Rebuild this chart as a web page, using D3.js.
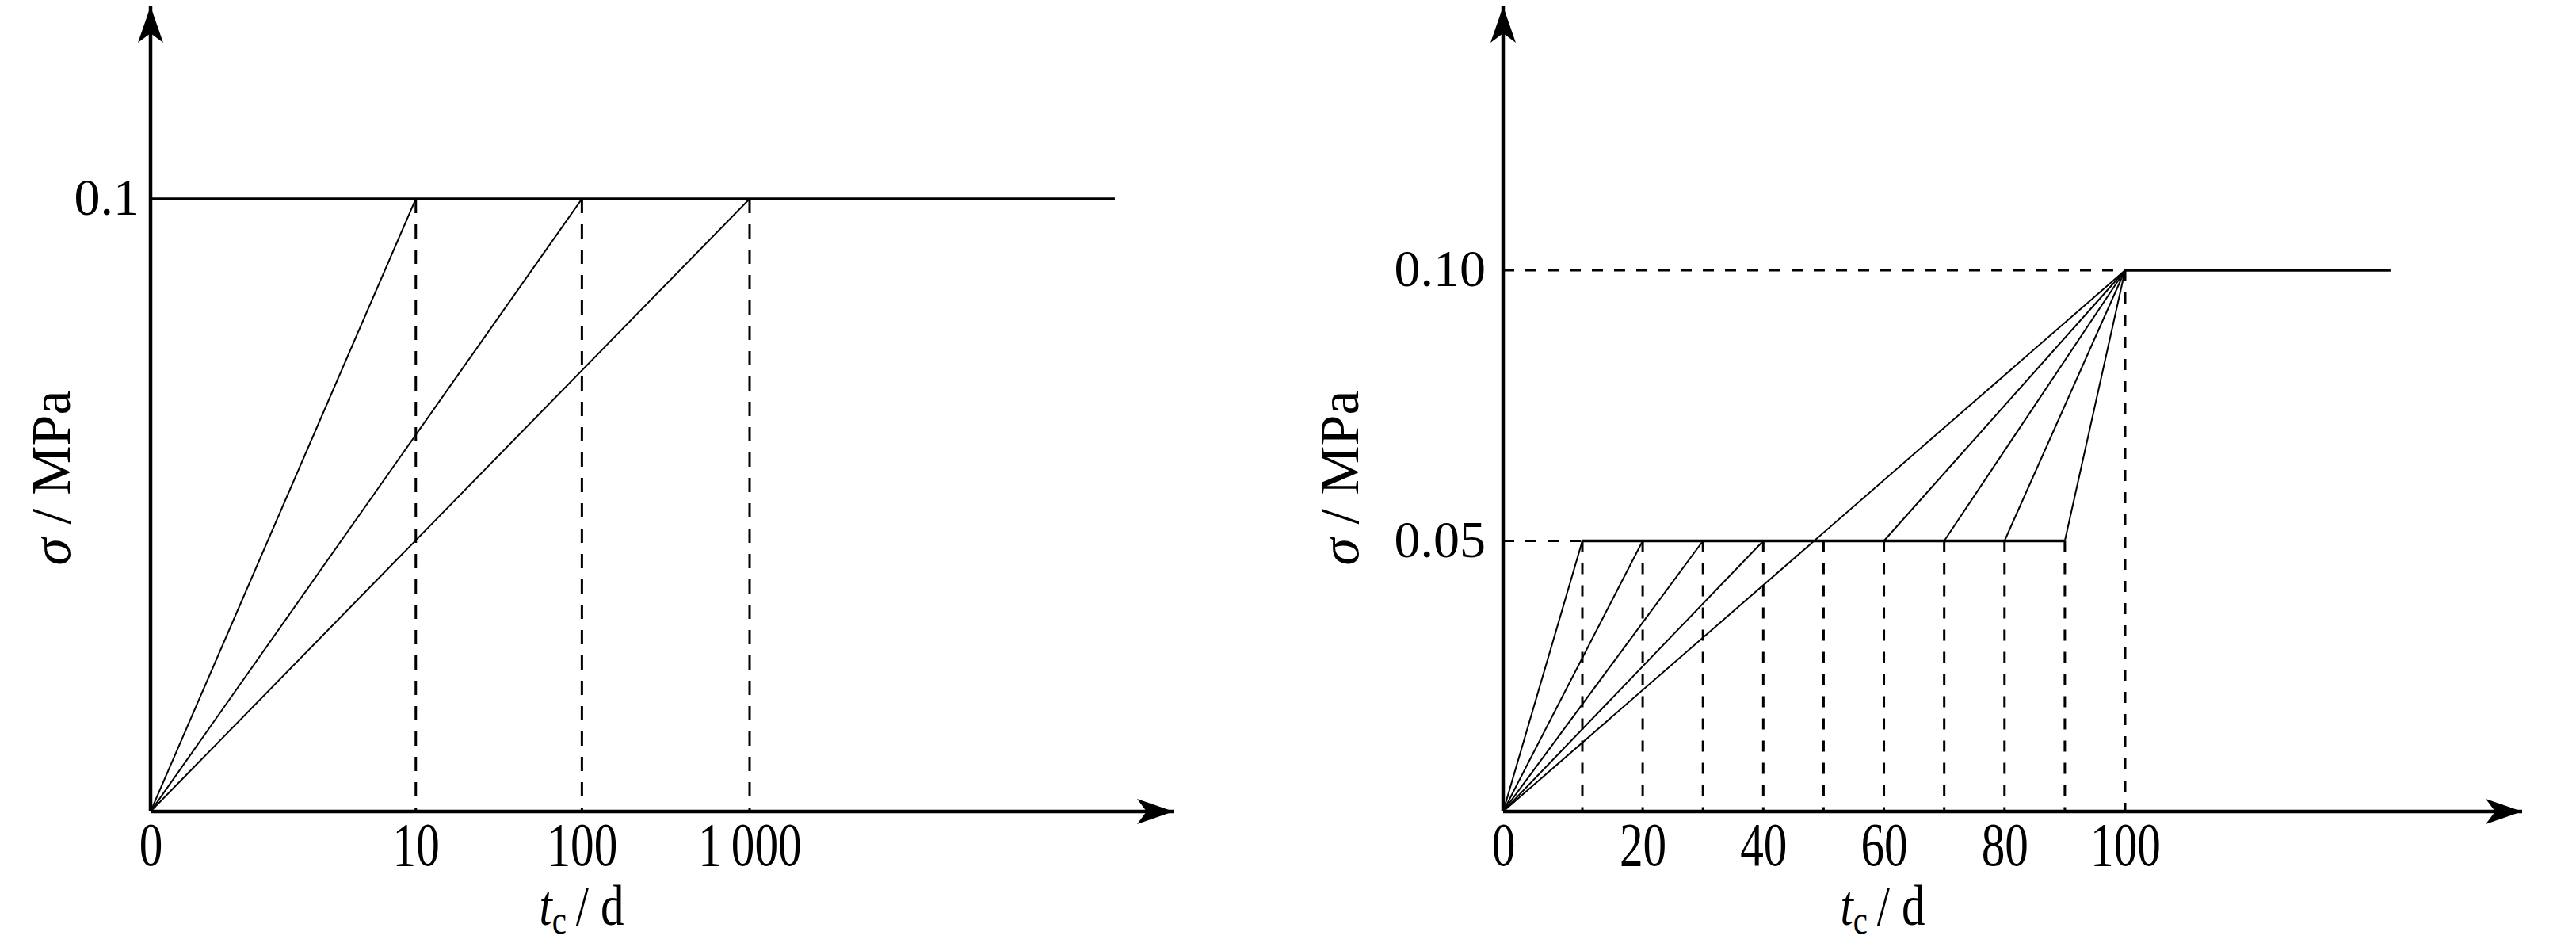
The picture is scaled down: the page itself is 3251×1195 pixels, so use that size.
<!DOCTYPE html>
<html>
<head>
    <meta charset="utf-8">
    <style>
        body { margin: 0; background: #fff; }
        svg { display: block; background: #fff; }
        text { font-family: "Liberation Serif", "Times New Roman", serif; fill: #000; }
        .ramp { fill: none; stroke: #000; stroke-width: 2px; }
        .hold { fill: none; stroke: #000; stroke-width: 3.5px; }
        .guide { fill: none; stroke: #000; stroke-width: 3px; stroke-dasharray: 14 14; }
        .axisline { fill: none; stroke: #000; stroke-width: 4.5px; }
    </style>
</head>
<body>
    <script src="https://cdn.jsdelivr.net/npm/d3@7/dist/d3.min.js"></script>
    <script>
        // ---- left panel data (log-like time axis) ----
        var leftTicks = [0, 10, 100, 1000];
        var leftTickLabels = ["0", "10", "100", "1\u2009000"];
        var leftRampEnds = [10, 100, 1000];      // time when 0.1 MPa is reached
        var leftStress = 0.1;
        var leftPlateauEnd = 150000;
        var leftYTicks = [0.1];
        var leftYLabels = ["0.1"];

        // ---- right panel data (two-step loading) ----
        var rightTicks = [0, 20, 40, 60, 80, 100];
        var rightTickLabels = ["0", "20", "40", "60", "80", "100"];
        var rightHoldTimes = [10, 20, 30, 40, 50, 60, 70, 80, 90];   // reaching 0.05 MPa
        var rightFirstRamp = [10, 20, 30, 40];    // origin -> (t, 0.05)
        var rightSecondRamp = [60, 70, 80, 90];   // (t, 0.05) -> (100, 0.10)
        var rightStep = [0.05, 0.10];
        var rightFinalTime = 100;
        var rightPlateauEnd = 144;
        var rightYTicks = [0.05, 0.10];
        var rightYLabels = ["0.05", "0.10"];

        var W = 3251, H = 1195;

        var svg = d3.select("body").append("svg")
            .attr("width", W)
            .attr("height", H);

        // arrow head
        svg.append("defs").append("marker")
            .attr("id", "arrow")
            .attr("markerUnits", "userSpaceOnUse")
            .attr("viewBox", "-48 -17 50 34")
            .attr("refX", 0).attr("refY", 0)
            .attr("markerWidth", 50).attr("markerHeight", 34)
            .attr("orient", "auto")
            .append("path")
            .attr("d", "M0,0 L-46,-16 L-34,0 L-46,16 Z")
            .attr("fill", "#000");

        var line = d3.line();

        function drawPanel(p) {
            var g = svg.append("g");
            var x = p.x, y = p.y;
            var x0 = x(0), y0 = y(0);

            // axes with arrows
            g.append("path").attr("class", "axisline")
                .attr("d", line([[x0, y0], [x0, p.yTop]]))
                .attr("marker-end", "url(#arrow)");
            g.append("path").attr("class", "axisline")
                .attr("d", line([[x0, y0], [p.xRight, y0]]))
                .attr("marker-end", "url(#arrow)");

            // x tick labels (no tick marks)
            var xa = g.append("g")
                .attr("transform", "translate(0," + y0 + ")")
                .call(d3.axisBottom(x).tickValues(p.xTicks)
                    .tickFormat(function (d, i) { return p.xLabels[i]; })
                    .tickSize(0).tickPadding(68));
            xa.select(".domain").remove();
            xa.selectAll("text")
                .attr("font-size", 78).attr("font-family", null)
                .attr("dy", 0)
                .attr("transform", "scale(0.76,1)");

            // y tick labels
            var ya = g.append("g")
                .attr("transform", "translate(" + x0 + ",0)")
                .call(d3.axisLeft(y).tickValues(p.yTicks)
                    .tickFormat(function (d, i) { return p.yLabels[i]; })
                    .tickSize(0).tickPadding(p.yPad));
            ya.select(".domain").remove();
            ya.selectAll("text").attr("font-size", 66).attr("font-family", null)
                .attr("dy", "0.3em");

            // axis titles
            var xt = g.append("text")
                .attr("text-anchor", "middle")
                .attr("font-size", 72)
                .attr("transform", "translate(" + p.xTitleX + ",1167) scale(0.82,1)");
            xt.append("tspan").attr("font-style", "italic").text("t");
            xt.append("tspan").attr("font-size", 50).attr("dy", 11).text("c");
            xt.append("tspan").attr("dy", -11).text("\u2009/ d");

            var yt = g.append("text")
                .attr("text-anchor", "middle")
                .attr("font-size", 70)
                .attr("transform", "translate(" + p.yTitleX + ",603) rotate(-90)");
            yt.append("tspan").attr("font-style", "italic").text("\u03c3");
            yt.append("tspan").text(" / MPa");

            return g;
        }

        // ---------- left panel ----------
        var xL = d3.scaleSymlog().constant(0.27).domain([0, 1000]).range([190, 946]);
        var yL = d3.scaleLinear().domain([0, 0.1]).range([1024, 251]);

        var gL = drawPanel({
            x: xL, y: yL, yTop: 8, xRight: 1481,
            xTicks: leftTicks, xLabels: leftTickLabels,
            yTicks: leftYTicks, yLabels: leftYLabels, yPad: 14,
            xTitleX: 734, yTitleX: 88
        });

        gL.selectAll(".lguide").data(leftRampEnds).enter().append("path")
            .attr("class", "guide").style("stroke-dasharray", "18 14")
            .attr("d", function (t) { return line([[xL(t), yL(leftStress)], [xL(t), yL(0)]]); });

        gL.selectAll(".lramp").data(leftRampEnds).enter().append("path")
            .attr("class", "ramp")
            .attr("d", function (t) { return line([[xL(0), yL(0)], [xL(t), yL(leftStress)]]); });

        gL.append("path").attr("class", "hold")
            .attr("d", line([[xL(0), yL(leftStress)], [xL(leftPlateauEnd), yL(leftStress)]]));

        // ---------- right panel ----------
        var xR = d3.scaleLinear().domain([0, 10, 100]).range([1897, 1997, 2682]);
        var yR = d3.scaleLinear().domain([0, 0.1]).range([1024, 341]);

        var gR = drawPanel({
            x: xR, y: yR, yTop: 8, xRight: 3183,
            xTicks: rightTicks, xLabels: rightTickLabels,
            yTicks: rightYTicks, yLabels: rightYLabels, yPad: 22,
            xTitleX: 2376, yTitleX: 1714
        });

        var lo = rightStep[0], hi = rightStep[1];

        // dashed guides
        gR.append("path").attr("class", "guide")
            .attr("d", line([[xR(0), yR(lo)], [xR(rightHoldTimes[0]), yR(lo)]]));
        gR.append("path").attr("class", "guide")
            .attr("d", line([[xR(0), yR(hi)], [xR(rightFinalTime), yR(hi)]]));
        gR.selectAll(".rguide").data(rightHoldTimes).enter().append("path")
            .attr("class", "guide")
            .attr("d", function (t) { return line([[xR(t), yR(lo)], [xR(t), yR(0)]]); });
        gR.append("path").attr("class", "guide")
            .attr("d", line([[xR(rightFinalTime), yR(hi)], [xR(rightFinalTime), yR(0)]]));

        // ramps
        gR.selectAll(".r1").data(rightFirstRamp).enter().append("path")
            .attr("class", "ramp")
            .attr("d", function (t) { return line([[xR(0), yR(0)], [xR(t), yR(lo)]]); });
        gR.selectAll(".r2").data(rightSecondRamp).enter().append("path")
            .attr("class", "ramp")
            .attr("d", function (t) { return line([[xR(t), yR(lo)], [xR(rightFinalTime), yR(hi)]]); });
        gR.append("path").attr("class", "ramp")
            .attr("d", line([[xR(0), yR(0)], [xR(rightFinalTime), yR(hi)]]));

        // holds
        gR.append("path").attr("class", "hold")
            .attr("d", line([[xR(d3.min(rightHoldTimes)), yR(lo)], [xR(d3.max(rightHoldTimes)), yR(lo)]]));
        gR.append("path").attr("class", "hold")
            .attr("d", line([[xR(rightFinalTime), yR(hi)], [xR(rightPlateauEnd), yR(hi)]]));
    </script>
</body>
</html>
